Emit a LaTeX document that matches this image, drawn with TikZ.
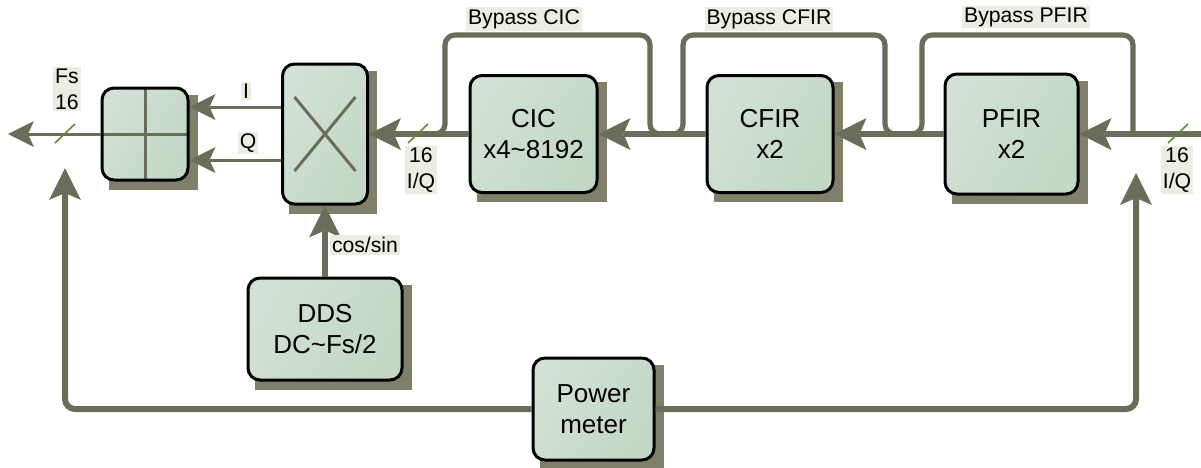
\documentclass[tikz,border=0pt]{standalone}
\usepackage{fontspec}
\setmainfont{Liberation Sans}
\usepackage{xcolor}
\usepackage{tikz}
\usetikzlibrary{
	arrows.meta, 
	calc, 
	backgrounds
}

\definecolor{linec}{RGB}{106,109,89}
\definecolor{shadowc}{RGB}{128,128,106}
\definecolor{boxl}{RGB}{210,225,213}
\definecolor{boxr}{RGB}{194,215,196}
\definecolor{lblbg}{RGB}{236,236,224}
\definecolor{tickc}{RGB}{92,140,52}

\tikzset{
	blk/.style={draw=black, line width=1.5pt, rounded corners=6pt, left color=boxl, right color=boxr, shading angle=60, align=center, inner sep=0pt, font=\fontsize{13}{15.5}\selectfont},
	lbl/.style={fill=lblbg, inner sep=1pt, align=center, font=\fontsize{10.6}{13}\selectfont},
	sig/.style={draw=linec, line width=3pt},
	iq/.style={draw=linec, line width=1.5pt},
	byp/.style={draw=linec, line width=2.6pt, rounded corners=5pt},
	bigtip/.style={-{Stealth[length=16pt, width=16pt, inset=3.5pt, line width=0pt]}},
	smalltip/.style={-{Stealth[length=13pt, width=13pt, inset=3pt, line width=0pt]}},
	tick/.style={draw=tickc, line width=0.8pt}
}

\begin{document}
\begin{tikzpicture}[x=0.5pt, y=-0.5pt]
		\useasboundingbox (0,0) rectangle (1201,467);
		% 方框
		\node[blk, minimum width=43pt, minimum height=46pt, path picture={
			\draw[iq] (path picture bounding box.north) -- (path picture bounding box.south);
			\draw[iq] (path picture bounding box.west) -- (path picture bounding box.east);
		}] (add) at (145,134) {};
		\node[blk, minimum width=42.5pt, minimum height=70pt, path picture={
			\draw[iq] ($(path picture bounding box.center)+(-15.25pt,18.5pt)$) -- ($(path picture bounding box.center)+(15.25pt,-18.5pt)$);
			\draw[iq] ($(path picture bounding box.center)+(-15.25pt,-18.5pt)$) -- ($(path picture bounding box.center)+(15.25pt,18.5pt)$);
		}] (mix) at (325,134) {};
		\node[blk, minimum width=63.5pt, minimum height=58.5pt] (cic) at (533.5,134) {CIC\\x4\textasciitilde8192};
		\node[blk, minimum width=63pt, minimum height=58.5pt] (cfir) at (770,134) {CFIR\\x2};
		\node[blk, minimum width=66.5pt, minimum height=60pt] (pfir) at (1011.5,134) {PFIR\\x2};
		\node[blk, minimum width=77pt, minimum height=51pt] (dds) at (325,329) {DDS\\DC\textasciitilde Fs/2};
		\node[blk, minimum width=60.5pt, minimum height=51pt] (pm) at (593.5,409) {Power\\meter};
		% 阴影
		\begin{scope}[on background layer]
			\foreach \n in {add,mix,cic,cfir,pfir,dds,pm}
				\fill[shadowc] ($(\n.south west)+(4pt,-4pt)$) rectangle ($(\n.north east)+(4pt,-4pt)$);
		\end{scope}
		% 旁路
		\draw[byp] (430,134) -- (445,134) -- (445,35) -- (650,35) -- (650,134) -- (665,134);
		\draw[byp] (668,134) -- (683,134) -- (683,35) -- (885,35) -- (885,134) -- (900,134);
		\draw[byp] (907,134) -- (922,134) -- (922,35) -- (1133,35) -- (1133,134);
		% 主通路
		\coordinate (in) at (1201,134);
		\coordinate (out) at (8,134);
		\draw[sig, bigtip] (in) -- (pfir.east);
		\draw[sig, bigtip] (pfir.west) -- (cfir.east);
		\draw[sig, bigtip] (cfir.west) -- (cic.east);
		\draw[sig, bigtip] (cic.west) -- (mix.east);
		\draw[iq, smalltip] ([yshift=13.5pt]mix.west) -- ([yshift=13.5pt]add.east);
		\draw[iq, smalltip] ([yshift=-13pt]mix.west) -- ([yshift=-13pt]add.east);
		\draw[iq, smalltip] (add.west) -- (out);
		\draw[sig, bigtip] (dds.north) -- (mix.south);
		% 功率计反馈
		\coordinate (fbl) at (65,168);
		\coordinate (fbr) at (1136,173);
		\draw[sig, bigtip, rounded corners=5pt] (pm.west) -- (65,409) -- (fbl);
		\draw[sig, bigtip, rounded corners=5pt] (pm.east) -- (1136,409) -- (fbr);
		% 位宽标记
		\foreach \x in {65,418,1178}
			\draw[tick] (\x-10,143) -- (\x+10,124);
		% 标签
		\node[lbl] (fs) at (67,89) {Fs\\16};
		\node[lbl] (iqa) at (421,170) {16\\I/Q};
		\node[lbl] (iqb) at (1177,170) {16\\I/Q};
		\node[lbl] (li) at (246,91) {I};
		\node[lbl] (lq) at (248,143) {Q};
		\node[lbl] (bcic) at (524,19) {Bypass CIC};
		\node[lbl] (bcfir) at (769,19) {Bypass CFIR};
		\node[lbl] (bpfir) at (1026,17) {Bypass PFIR};
		\node[lbl] (cs) at (365,245) {cos/sin};
	\end{tikzpicture}
\end{document}
